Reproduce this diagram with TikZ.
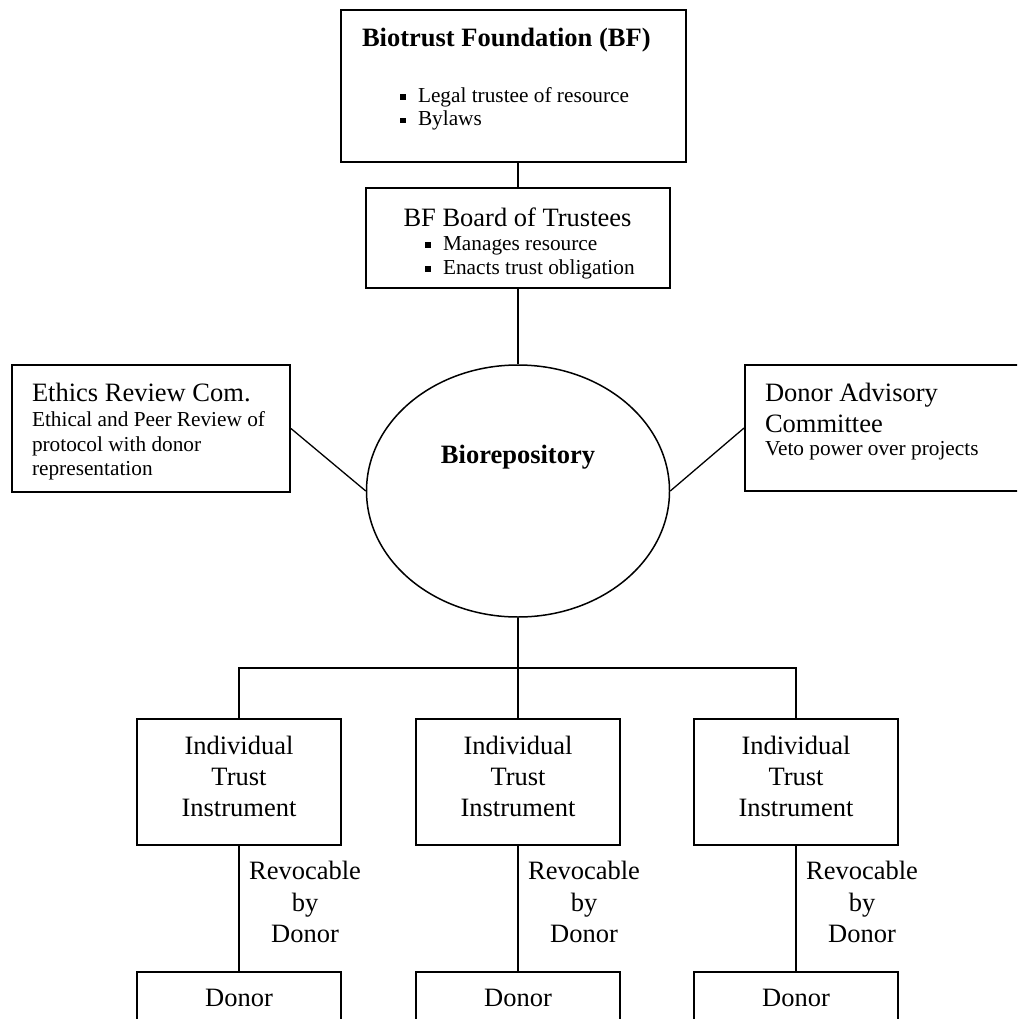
\documentclass[tikz,border=0pt]{standalone}
\usepackage{fontspec}
\setmainfont{Liberation Serif}
\usetikzlibrary{shapes.geometric}
\newcommand{\bul}{\rule[2.5pt]{5.5pt}{5.5pt}\hspace{12.5pt}}
\begin{document}
\begin{tikzpicture}[x=1pt,y=-1pt,
  box/.style={draw, line width=1.9pt, inner sep=0pt, rectangle},
  conn/.style={draw, line width=1.3pt},
  thickconn/.style={draw, line width=2.8pt},
  txt/.style={inner sep=0pt, outer sep=0pt},
  bigt/.style={txt, font=\fontsize{26.5}{31.5}\selectfont},
  bigsp/.style={txt, font=\fontsize{26.5}{31}\selectfont},
  smallt/.style={txt, font=\fontsize{21.3}{23.5}\selectfont},
  smallsp/.style={txt, font=\fontsize{21.3}{24.5}\selectfont}]
\fill[white] (0,0) rectangle (1017,1019);
\clip (0,0) rectangle (1017,1019);

% boxes
\node[box, minimum width=345pt, minimum height=152pt] (bf) at (513.5,86) {};
\node[box, minimum width=304pt, minimum height=100pt] (board) at (518,238) {};
\node[box, minimum width=278pt, minimum height=127pt] (eth) at (151,428.5) {};
\node[box, minimum width=285pt, minimum height=126pt] (dac) at (887.5,428) {};
\node[draw, ellipse, line width=1.5pt, inner sep=0pt, minimum width=303pt, minimum height=252pt] (bio) at (518,491) {};
\node[box, minimum width=204pt, minimum height=126pt] (iti1) at (239,782) {};
\node[box, minimum width=204pt, minimum height=126pt] (iti2) at (518,782) {};
\node[box, minimum width=204pt, minimum height=126pt] (iti3) at (796,782) {};
\node[box, minimum width=204pt, minimum height=68pt] (don1) at (239,1006) {};
\node[box, minimum width=204pt, minimum height=68pt] (don2) at (518,1006) {};
\node[box, minimum width=204pt, minimum height=68pt] (don3) at (796,1006) {};

% texts
\node[bigt, anchor=west, font=\fontsize{26.5}{31.5}\selectfont\bfseries] (bft) at (362,40) {Biotrust Foundation (BF)};
\node[smallt, anchor=west, align=left] (bfb) at (400,109) {\bul Legal trustee of resource\\\bul Bylaws};
\node[bigt] (boardt) at (517.5,217) {BF Board of Trustees};
\node[smallt, anchor=west, align=left, font=\fontsize{21.3}{24}\selectfont] (boardb) at (425,257.5) {\bul Manages resource\\\bul Enacts trust obligation};
\node[bigt, anchor=west] (etht) at (32,392) {Ethics Review Com.};
\node[smallsp, anchor=west, align=left] (eths) at (32,446) {Ethical and Peer Review of\\protocol with donor\\representation};
\node[bigsp, anchor=west, align=left] (dact) at (765,407.5) {Donor Advisory\\Committee};
\node[smallt, anchor=west] (dacs) at (765,451) {Veto power over projects};
\node[bigt, font=\fontsize{26.5}{31.5}\selectfont\bfseries] (biot) at (518,457) {Biorepository};
\foreach \i/\x in {1/239,2/518,3/796}{
  \node[bigsp, align=center] (itit\i) at (\x,776.5) {Individual\\Trust\\Instrument};
  \node[bigt, align=center] (rev\i) at (\x+66,902) {Revocable\\by\\Donor};
  \node[bigt] (dont\i) at (\x,998) {Donor};
}

% connectors
\draw[conn] (board.north |- bf.south) -- (board.north);
\coordinate (jb) at (518,313);
\draw[conn] (board.south) -- (jb);
\draw[thickconn] (jb) -- (bio.north);
\draw[conn] (eth.east) -- (bio.west);
\draw[conn] (dac.west) -- (bio.east);
\coordinate (bar) at (518,668);
\draw[conn] (bio.south) -- (bar);
\draw[conn] (iti1.north) |- (bar) -| (iti3.north);
\draw[conn] (bar) -- (iti2.north);
\foreach \i in {1,2,3}{
  \draw[conn] (iti\i.south) -- (don\i.north);
}
\end{tikzpicture}
\end{document}
